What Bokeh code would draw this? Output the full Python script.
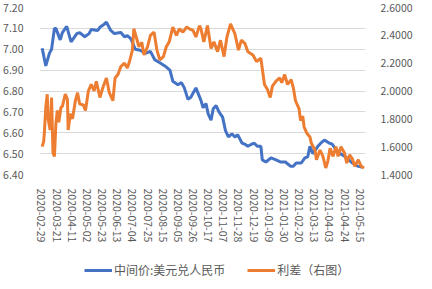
import math
import pandas as pd
from bokeh.plotting import figure
from bokeh.layouts import column
from bokeh.models import (Range1d, LinearAxis, FixedTicker, NumeralTickFormatter,
                          DatetimeTickFormatter, Legend, LegendItem, ColumnDataSource)
from bokeh.embed import file_html
from bokeh.resources import INLINE

tick_labels = ["2020-02-29", "2020-03-21", "2020-04-11", "2020-05-02", "2020-05-23",
               "2020-06-13", "2020-07-04", "2020-07-25", "2020-08-15", "2020-09-05",
               "2020-09-26", "2020-10-17", "2020-11-07", "2020-11-28", "2020-12-19",
               "2021-01-09", "2021-01-30", "2021-02-20", "2021-03-13", "2021-04-03",
               "2021-04-24", "2021-05-15"]

left_ticks = [6.40, 6.50, 6.60, 6.70, 6.80, 6.90, 7.00, 7.10, 7.20]
right_ticks = [1.4, 1.6, 1.8, 2.0, 2.2, 2.4, 2.6]

usd_dates = ["2020-03-01", "2020-03-06", "2020-03-11", "2020-03-14", "2020-03-18", "2020-03-20",
             "2020-03-26", "2020-03-29", "2020-04-04", "2020-04-10", "2020-04-18", "2020-04-22",
             "2020-04-29", "2020-05-05", "2020-05-08", "2020-05-17", "2020-05-20", "2020-05-26",
             "2020-05-29", "2020-06-04", "2020-06-09", "2020-06-18", "2020-06-23", "2020-06-27",
             "2020-07-02", "2020-07-08", "2020-07-15", "2020-07-22", "2020-07-29", "2020-08-04",
             "2020-08-11", "2020-08-18", "2020-08-25", "2020-08-29", "2020-09-05", "2020-09-10",
             "2020-09-14", "2020-09-19", "2020-09-23", "2020-09-30", "2020-10-07", "2020-10-10",
             "2020-10-14", "2020-10-17", "2020-10-21", "2020-10-24", "2020-10-28", "2020-11-01",
             "2020-11-06", "2020-11-10", "2020-11-14", "2020-11-19", "2020-11-23", "2020-11-27",
             "2020-12-03", "2020-12-07", "2020-12-11", "2020-12-16", "2020-12-20", "2020-12-24",
             "2020-12-29", "2020-12-31", "2021-01-05", "2021-01-12", "2021-01-19", "2021-01-25",
             "2021-02-01", "2021-02-08", "2021-02-12", "2021-02-16", "2021-02-23", "2021-02-28",
             "2021-03-04", "2021-03-07", "2021-03-11", "2021-03-18", "2021-03-22", "2021-03-27",
             "2021-04-03", "2021-04-07", "2021-04-11", "2021-04-18", "2021-04-25", "2021-04-30",
             "2021-05-05", "2021-05-12", "2021-05-19"]
usd_values = [7.005, 6.92, 6.98, 7.00, 7.10, 7.10,
              7.045, 7.08, 7.11, 7.035, 7.075, 7.08,
              7.06, 7.075, 7.095, 7.09, 7.105, 7.12,
              7.13, 7.09, 7.075, 7.08, 7.06, 7.065,
              7.05, 7.00, 6.995, 6.98, 6.99, 6.95,
              6.935, 6.92, 6.90, 6.847, 6.83, 6.84,
              6.815, 6.76, 6.77, 6.815, 6.755, 6.72,
              6.74, 6.69, 6.66, 6.715, 6.73, 6.70,
              6.675, 6.61, 6.58, 6.595, 6.58, 6.59,
              6.55, 6.545, 6.535, 6.545, 6.55, 6.535,
              6.535, 6.47, 6.46, 6.48, 6.47, 6.46,
              6.46, 6.44, 6.44, 6.455, 6.455, 6.48,
              6.485, 6.535, 6.50, 6.535, 6.55, 6.565,
              6.55, 6.545, 6.525, 6.50, 6.485, 6.47,
              6.455, 6.44, 6.435]

spread_dates = ["2020-03-01", "2020-03-03", "2020-03-04", "2020-03-06", "2020-03-08", "2020-03-09",
                "2020-03-12", "2020-03-14", "2020-03-16", "2020-03-18", "2020-03-20", "2020-03-22",
                "2020-03-24", "2020-03-27", "2020-03-29", "2020-04-02", "2020-04-05", "2020-04-06",
                "2020-04-09", "2020-04-12", "2020-04-16", "2020-04-19", "2020-04-22", "2020-04-27",
                "2020-04-30", "2020-05-04", "2020-05-08", "2020-05-12", "2020-05-15", "2020-05-20",
                "2020-05-24", "2020-05-29", "2020-06-02", "2020-06-07", "2020-06-10", "2020-06-14",
                "2020-06-18", "2020-06-23", "2020-06-27", "2020-06-30", "2020-07-04", "2020-07-06",
                "2020-07-10", "2020-07-13", "2020-07-17", "2020-07-20", "2020-07-25", "2020-07-29",
                "2020-08-03", "2020-08-07", "2020-08-11", "2020-08-16", "2020-08-20", "2020-08-24",
                "2020-08-29", "2020-09-03", "2020-09-07", "2020-09-12", "2020-09-17", "2020-09-21",
                "2020-09-26", "2020-09-30", "2020-10-05", "2020-10-07", "2020-10-11", "2020-10-16",
                "2020-10-21", "2020-10-25", "2020-10-30", "2020-11-03", "2020-11-08", "2020-11-12",
                "2020-11-17", "2020-11-20", "2020-11-23", "2020-11-28", "2020-12-02", "2020-12-07",
                "2020-12-11", "2020-12-18", "2020-12-23", "2020-12-29", "2021-01-03", "2021-01-07",
                "2021-01-11", "2021-01-14", "2021-01-19", "2021-01-24", "2021-01-27", "2021-01-31",
                "2021-02-04", "2021-02-09", "2021-02-12", "2021-02-15", "2021-02-20", "2021-02-22",
                "2021-02-25", "2021-02-27", "2021-03-03", "2021-03-07", "2021-03-09", "2021-03-14",
                "2021-03-16", "2021-03-21", "2021-03-25", "2021-03-29", "2021-04-01", "2021-04-04",
                "2021-04-08", "2021-04-12", "2021-04-15", "2021-04-19", "2021-04-24", "2021-04-27",
                "2021-05-01", "2021-05-05", "2021-05-08", "2021-05-13", "2021-05-17", "2021-05-21"]
spread_values = [1.60, 1.635, 1.696, 1.882, 1.977, 1.81,
                 1.72, 1.953, 1.555, 1.53, 1.765, 1.86,
                 1.776, 1.882, 1.89, 1.977, 1.94, 1.72,
                 1.836, 1.80, 1.93, 1.988, 1.906, 1.90,
                 1.86, 2.00, 2.047, 2.00, 2.07, 1.953,
                 2.023, 2.094, 1.988, 1.93, 2.094, 2.118,
                 2.176, 2.20, 2.165, 2.212, 2.294, 2.447,
                 2.376, 2.318, 2.35, 2.259, 2.318, 2.40,
                 2.423, 2.294, 2.224, 2.247, 2.318, 2.353,
                 2.459, 2.40, 2.447, 2.423, 2.459, 2.447,
                 2.435, 2.388, 2.47, 2.447, 2.353, 2.47,
                 2.306, 2.353, 2.282, 2.365, 2.247, 2.388,
                 2.482, 2.447, 2.412, 2.294, 2.365, 2.341,
                 2.282, 2.259, 2.212, 2.235, 2.047, 2.012,
                 1.953, 2.035, 2.071, 2.094, 2.06, 2.118,
                 2.047, 2.082, 2.023, 1.93, 1.871, 1.788,
                 1.82, 1.741, 1.694, 1.67, 1.624, 1.576,
                 1.506, 1.576, 1.53, 1.447, 1.50, 1.588,
                 1.53, 1.60, 1.53, 1.60, 1.553, 1.482,
                 1.541, 1.51, 1.459, 1.506, 1.459, 1.447]

series_names = ["中间价:美元兑人民币", "利差（右图）"]
series_colors = ["#4472C4", "#ED7D31"]

FONT = "Noto Sans CJK SC"
TXT = "#595959"
EPOCH = pd.Timestamp("1970-01-01")


def ms(ts):
    return (ts - EPOCH) / pd.Timedelta(milliseconds=1)


base = pd.Timestamp(tick_labels[0])
x_start = ms(base - pd.Timedelta(hours=65))
x_end = ms(base + pd.Timedelta(days=449))

usd_src = ColumnDataSource(dict(x=pd.to_datetime(usd_dates), y=usd_values))
spr_src = ColumnDataSource(dict(x=pd.to_datetime(spread_dates), y=spread_values))

p = figure(width=416, height=245, x_axis_type="datetime",
           x_range=Range1d(x_start, x_end), y_range=Range1d(6.4, 7.2),
           output_backend="svg", toolbar_location=None,
           min_border_left=32, min_border_right=51, min_border_top=7, min_border_bottom=68)
p.extra_y_ranges = {"right": Range1d(1.4, 2.6)}
p.outline_line_color = None
p.background_fill_color = "white"
p.border_fill_color = "white"

r1 = p.line("x", "y", source=usd_src, line_color=series_colors[0], line_width=3)
r2 = p.line("x", "y", source=spr_src, line_color=series_colors[1], line_width=3,
            y_range_name="right")

ly = p.yaxis[0]
ly.ticker = FixedTicker(ticks=left_ticks)
ly.formatter = NumeralTickFormatter(format="0.00")
ly.major_label_standoff = 10

ry = LinearAxis(y_range_name="right")
ry.ticker = FixedTicker(ticks=right_ticks)
ry.formatter = NumeralTickFormatter(format="0.0000")
ry.major_label_standoff = 9
p.add_layout(ry, "right")

xa = p.xaxis[0]
xa.ticker = FixedTicker(ticks=[ms(pd.Timestamp(t)) for t in tick_labels])
fmt = "%Y-%m-%d"
xa.formatter = DatetimeTickFormatter(microseconds=fmt, milliseconds=fmt, seconds=fmt, minsec=fmt,
                                     minutes=fmt, hourmin=fmt, hours=fmt, days=fmt, months=fmt,
                                     years=fmt)
xa.major_label_orientation = -math.pi / 2
xa.major_label_standoff = 8

for ax in [ly, ry, xa]:
    ax.axis_line_color = None
    ax.major_tick_line_color = None
    ax.minor_tick_line_color = None
    ax.major_label_text_font = FONT
    ax.major_label_text_font_size = "10.5px"
    ax.major_label_text_color = TXT

p.xgrid.visible = False
p.ygrid.grid_line_color = "#d9d9d9"
p.ygrid.grid_line_width = 1
p.ygrid.ticker = FixedTicker(ticks=left_ticks)

# legend strip: same series drawn in a figure whose ranges keep them off-frame,
# so only the legend (glyph + label) is visible
lg = figure(width=416, height=34, x_range=Range1d(0, 1), y_range=Range1d(0, 1),
            x_axis_location=None, y_axis_location=None,
            output_backend="svg", toolbar_location=None,
            min_border_left=0, min_border_right=0, min_border_top=0, min_border_bottom=0)
lg.grid.visible = False
lg.outline_line_color = None
lg.border_fill_color = "white"
lg.background_fill_color = "white"
g1 = lg.line("x", "y", source=usd_src, line_color=series_colors[0], line_width=3)
g2 = lg.line("x", "y", source=spr_src, line_color=series_colors[1], line_width=3)
legend = Legend(items=[LegendItem(label=series_names[0], renderers=[g1]),
                       LegendItem(label=series_names[1], renderers=[g2])],
                orientation="horizontal", location=(45, 1),
                glyph_width=28, glyph_height=14, label_height=14, label_standoff=2,
                spacing=22, padding=0, margin=0, border_line_color=None,
                background_fill_alpha=0, label_text_font=FONT,
                label_text_font_size="12px", label_text_color=TXT)
lg.add_layout(legend)

layout = column(p, lg, spacing=0)
open("out.html", "w").write(file_html(layout, INLINE))
